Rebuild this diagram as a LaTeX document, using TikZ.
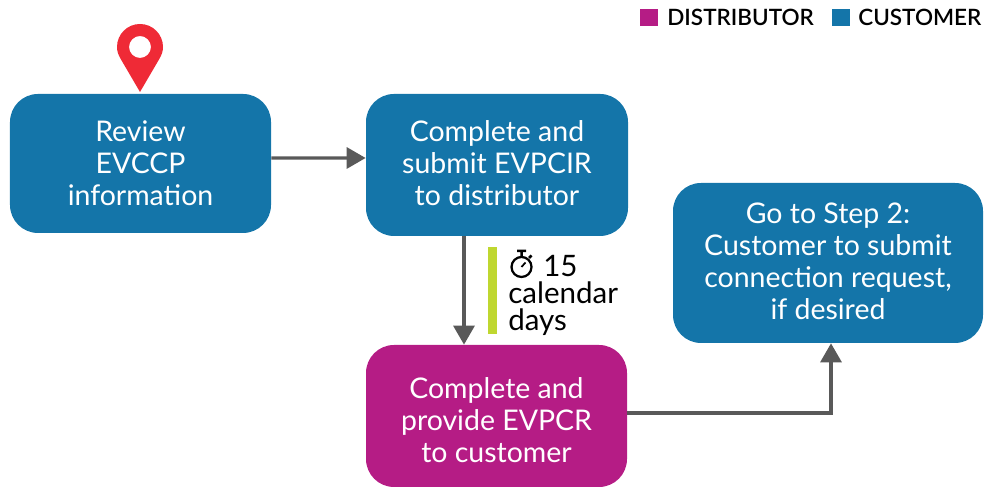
\documentclass[tikz,border=0pt]{standalone}
\usepackage{fontspec}
\setmainfont{Lato}
\newfontfamily\legendfont{Lato Semibold}
\usetikzlibrary{arrows.meta}
\definecolor{custblue}{HTML}{1475A9}
\definecolor{distmag}{HTML}{B51C85}
\definecolor{pinred}{HTML}{EF2A36}
\definecolor{barlime}{HTML}{BFD730}
\definecolor{arrowgrey}{HTML}{595959}
\tikzset{
    stepbox/.style={rounded corners=0.56cm, text=white, align=center, inner sep=0pt,
        font=\fontsize{16.2}{18.2}\selectfont},
    conn/.style={draw=arrowgrey, line width=0.065cm, -{Triangle[length=0.38cm,width=0.42cm]}},
    legendbox/.style={minimum size=0.35cm, inner sep=0pt},
    legendtext/.style={anchor=base west, inner sep=0pt, font=\fontsize{12.8}{16}\legendfont}
}
\begin{document}
\begin{tikzpicture}
    \useasboundingbox (0,0) rectangle (19.74,9.74);
    % boxes
    \node[stepbox, fill=custblue, minimum width=5.22cm, minimum height=2.78cm] (review) at (2.81,6.47)
        {Review\\EVCCP\\information};
    \node[stepbox, fill=custblue, minimum width=5.24cm, minimum height=2.84cm] (submit) at (9.94,6.44)
        {Complete and\\submit EVPCIR\\to distributor\rule[-2.3pt]{0pt}{0pt}};
    \node[stepbox, fill=distmag, minimum width=5.22cm, minimum height=2.84cm] (provide) at (9.93,1.42)
        {\rule{0pt}{16.6pt}Complete and\\provide EVPCR\\to customer};
    \node[stepbox, fill=custblue, minimum width=6.2cm, minimum height=3.2cm] (goto) at (16.56,4.48)
        {Go to Step 2:\\Customer to submit\\connection request,\\if desired\rule[-2.3pt]{0pt}{0pt}};
    % arrows
    \draw[conn] ([yshift=0.11cm]review.east) -- ([yshift=0.14cm]submit.west);
    \draw[conn] ([xshift=-0.66cm]submit.south) -- ([xshift=-0.65cm]provide.north);
    \draw[conn] ([yshift=0.06cm]provide.east) -| ([xshift=0.06cm]goto.south);
    % start pin
    \fill[pinred,even odd rule] (2.8,7.9) -- (2.42,8.55) .. controls (2.36,8.65) and (2.34,8.72) .. (2.34,8.8)
        arc[start angle=180,end angle=0,radius=0.46] .. controls (3.26,8.72) and (3.24,8.65) .. (3.18,8.55) -- cycle
        (2.8,8.8) circle (0.22);
    % waiting time
    \fill[barlime] (9.76,3.06) rectangle (9.94,4.8);
    \node[anchor=north west, inner sep=0pt, align=left, font=\fontsize{16.8}{15.4}\selectfont] (wait) at (10.16,4.64)
        {\hspace{0.7cm}15\\calendar\\days};
    \draw[line width=0.045cm] (10.43,4.4) circle (0.2);
    \draw[line width=0.05cm] (10.43,4.6) -- (10.43,4.72) (10.34,4.72) -- (10.52,4.72) (10.58,4.58) -- (10.63,4.63);
    \draw[line width=0.035cm] (10.43,4.4) -- (10.51,4.49);
    % legend
    \node[legendbox, fill=distmag] (distkey) at (12.98,9.39) {};
    \node[legendtext] (disttext) at (13.34,9.22) {DISTRIBUTOR};
    \node[legendbox, fill=custblue] (custkey) at (16.82,9.39) {};
    \node[legendtext] (custtext) at (17.16,9.22) {CUSTOMER};
\end{tikzpicture}
\end{document}
